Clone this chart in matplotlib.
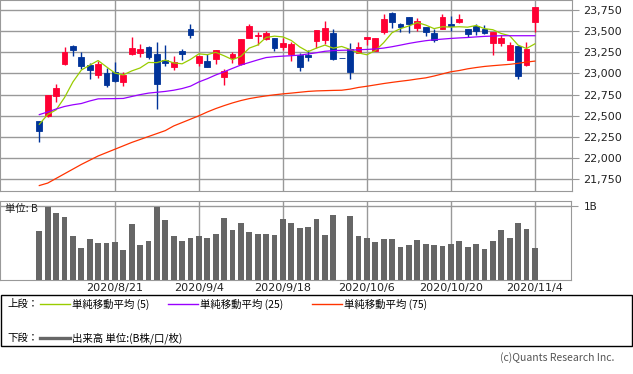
import matplotlib
matplotlib.use('Agg')
import matplotlib.pyplot as plt
from matplotlib.lines import Line2D
from matplotlib.patches import Rectangle
import numpy as np
import pandas as pd

plt.rcParams['font.family'] = ['Noto Sans CJK JP', 'DejaVu Sans']

# trading days 2020/8/7 - 2020/11/4 (TSE holidays removed, 10/1 = system halt)
holidays = ['2020-08-10', '2020-09-21', '2020-09-22', '2020-11-03']
days = pd.bdate_range('2020-08-07', '2020-11-04')
days = days[~days.isin(pd.to_datetime(holidays))]
dates = [f"{d.year}/{d.month}/{d.day}" for d in days]

tick_labels = ['2020/8/21', '2020/9/4', '2020/9/18', '2020/10/6', '2020/10/20', '2020/11/4']

opens = [22435, 22494, 22735, 23114, 23323, 23193, 23098, 22984, 23003, 23019,
         22897, 23229, 23240, 23312, 23229, 23154, 23078, 23264, 23525, 23126,
         23146, 23169, 22960, 23177, 23106, 23422, 23438, 23410, 23422, 23316,
         23229, 23217, 23217, 23387, 23395, 23477, 23177, 23288, 23244, 23406,
         23268, 23485, 23714, 23584, 23667, 23541, 23545, 23477, 23529, 23584,
         23608, 23525, 23564, 23529, 23363, 23363, 23157, 23323, 23102, 23612]
highs = [22440, 22750, 22873, 23312, 23335, 23252, 23126, 23146, 23059, 23134,
         23015, 23434, 23351, 23323, 23367, 23335, 23205, 23288, 23584, 23205,
         23225, 23280, 23051, 23252, 23410, 23584, 23485, 23501, 23422, 23422,
         23375, 23236, 23276, 23515, 23620, 23525, 23177, 23363, 23371, 23435,
         23422, 23703, 23730, 23600, 23670, 23651, 23545, 23521, 23699, 23679,
         23703, 23525, 23584, 23572, 23495, 23450, 23367, 23327, 23375, 23790]
lows = [22190, 22480, 22664, 23102, 23209, 23055, 22932, 22948, 22842, 22905,
        22853, 23217, 23197, 23173, 22581, 23086, 23039, 23157, 23422, 23090,
        23078, 23110, 22865, 23126, 23100, 23420, 23339, 23395, 23268, 23276,
        23150, 23031, 23150, 23296, 23343, 23165, 23177, 22932, 23244, 23331,
        23268, 23470, 23541, 23493, 23477, 23501, 23446, 23375, 23529, 23501,
        23592, 23426, 23450, 23470, 23221, 23327, 23155, 22936, 23090, 23485]
closes = [22320, 22743, 22834, 23252, 23276, 23090, 23039, 23110, 22861, 22909,
          22980, 23300, 23288, 23197, 22877, 23126, 23138, 23232, 23458, 23205,
          23078, 23276, 23027, 23229, 23406, 23560, 23458, 23477, 23304, 23359,
          23351, 23078, 23197, 23513, 23537, 23169, 23177, 23019, 23312, 23430,
          23414, 23643, 23612, 23553, 23584, 23620, 23493, 23398, 23667, 23560,
          23643, 23466, 23501, 23481, 23493, 23418, 23335, 22972, 23292, 23790]

ma5 = [22400, 22515, 22570, 22715, 22900, 23040, 23098, 23153, 23078, 23005,
       22983, 23030, 23065, 23130, 23128, 23158, 23125, 23114, 23166, 23232,
       23222, 23250, 23209, 23163, 23203, 23300, 23336, 23426, 23441, 23432,
       23390, 23314, 23258, 23300, 23335, 23299, 23319, 23283, 23243, 23221,
       23270, 23364, 23482, 23530, 23561, 23602, 23572, 23530, 23552, 23548,
       23552, 23547, 23567, 23530, 23517, 23472, 23446, 23335, 23295, 23350]
ma25 = [22514, 22545, 22580, 22610, 22630, 22645, 22675, 22700, 22702, 22703,
        22705, 22728, 22750, 22768, 22778, 22788, 22802, 22822, 22850, 22900,
        22938, 22982, 23020, 23060, 23100, 23130, 23160, 23188, 23198, 23205,
        23210, 23217, 23230, 23245, 23262, 23270, 23274, 23276, 23280, 23284,
        23290, 23300, 23316, 23335, 23355, 23372, 23387, 23398, 23406, 23414,
        23420, 23425, 23432, 23438, 23442, 23446, 23446, 23446, 23446, 23446]
ma75 = [21676, 21705, 21760, 21815, 21870, 21925, 21975, 22025, 22065, 22105,
        22145, 22185, 22220, 22255, 22290, 22325, 22380, 22420, 22460, 22500,
        22545, 22585, 22620, 22652, 22680, 22703, 22720, 22735, 22748, 22759,
        22768, 22778, 22788, 22794, 22797, 22800, 22802, 22815, 22835, 22849,
        22865, 22881, 22895, 22908, 22920, 22935, 22948, 22970, 22995, 23020,
        23035, 23055, 23070, 23083, 23092, 23100, 23108, 23120, 23135, 23146]

# volume in billions of shares, 10/1 had no trading
volume = [0.665, 0.991, 0.910, 0.855, 0.597, 0.434, 0.557, 0.502, 0.502, 0.516,
          0.407, 0.760, 0.475, 0.529, 0.991, 0.814, 0.597, 0.529, 0.570, 0.597,
          0.570, 0.624, 0.842, 0.679, 0.774, 0.652, 0.624, 0.624, 0.611, 0.828,
          0.774, 0.706, 0.719, 0.828, 0.611, 0.882, 0.0, 0.869, 0.597, 0.570,
          0.516, 0.557, 0.557, 0.448, 0.475, 0.543, 0.489, 0.475, 0.462, 0.489,
          0.529, 0.448, 0.489, 0.421, 0.529, 0.679, 0.570, 0.774, 0.692, 0.434]

W, H = 633, 374
UP = '#ff0033'
DOWN = '#003399'
GRID = '#999999'


def fx(px):
    return px / W


def fy(py):
    return 1 - py / H


fig = plt.figure(figsize=(W / 100, H / 100), dpi=100)
ax = fig.add_axes([fx(0), fy(190.7), fx(572), 190.7 / H])
axv = fig.add_axes([fx(0), fy(280), fx(571), 78.7 / H])

x = np.arange(len(dates))
o = np.array(opens)
c = np.array(closes)
colors = [UP if cc > oo else DOWN for oo, cc in zip(o, c)]

# candles
ax.vlines(x, lows, highs, colors=colors, linewidth=1, zorder=3)
ax.bar(x, np.abs(c - o), bottom=np.minimum(o, c), width=0.68, color=colors,
       edgecolor=colors, linewidth=0.6, zorder=4)

ax.plot(x, ma5, color='#99cc00', linewidth=0.9, zorder=5)
ax.plot(x, ma25, color='#9900ff', linewidth=0.9, zorder=5)
ax.plot(x, ma75, color='#ff3300', linewidth=0.9, zorder=5)

tick_idx = [dates.index(t) for t in tick_labels]

ax.set_xlim(-4.68, 63.42)
ax.set_ylim(21615, 23868)
ax.set_yticks(np.arange(21750, 23751, 250))
ax.set_yticklabels([f"{v:,}" for v in range(21750, 23751, 250)], family='DejaVu Sans')
ax.set_xticks(tick_idx)
ax.set_xticklabels([])
ax.yaxis.tick_right()
ax.tick_params(axis='y', length=5, color=GRID, labelsize=8, pad=3, labelcolor='#222222')
ax.tick_params(axis='x', length=0)
ax.grid(True, color=GRID, linewidth=1)
ax.set_axisbelow(True)
for s in ax.spines.values():
    s.set_color(GRID)

# volume
axv.bar(x, volume, width=0.68, color='#666666', zorder=3)
axv.set_xlim(-4.68, 63.3)
axv.set_ylim(0, 1.068)
axv.set_yticks([1])
axv.set_yticklabels(['1B'], family='DejaVu Sans')
axv.yaxis.tick_right()
axv.tick_params(axis='y', length=5, color=GRID, labelsize=7.5, pad=4, labelcolor='#222222')
axv.set_xticks(tick_idx)
axv.set_xticklabels(tick_labels, family='DejaVu Sans')
axv.tick_params(axis='x', length=0, labelsize=8, pad=2, labelcolor='#222222')
axv.grid(True, color=GRID, linewidth=1)
axv.set_axisbelow(True)
for s in axv.spines.values():
    s.set_color(GRID)
axv.text(0.009, 0.9, '単位: B', transform=axv.transAxes, fontsize=7.5,
         va='center', ha='left', color='#222222')

# legend box
fig.patches.append(Rectangle((fx(0.5), fy(346)), fx(631), (346 - 295.3) / H,
                             transform=fig.transFigure, fill=False,
                             edgecolor='black', linewidth=1))

row1, row2 = 304, 338
fig.text(fx(7), fy(row1), '上段：', fontsize=7.5, va='center', ha='left')
fig.text(fx(7), fy(row2), '下段：', fontsize=7.5, va='center', ha='left')
legend_items = [(40, '#99cc00', '単純移動平均 (5)'),
                (168, '#9900ff', '単純移動平均 (25)'),
                (312, '#ff3300', '単純移動平均 (75)')]
for x0, col, label in legend_items:
    fig.lines.append(Line2D([fx(x0), fx(x0 + 30)], [fy(row1), fy(row1)],
                            transform=fig.transFigure, color=col, linewidth=1))
    fig.text(fx(x0 + 32), fy(row1), label, fontsize=7.5, va='center', ha='left')
fig.lines.append(Line2D([fx(40), fx(70)], [fy(row2), fy(row2)],
                        transform=fig.transFigure, color='#666666', linewidth=2.4))
fig.text(fx(72), fy(row2), '出来高 単位:(B株/口/枚)', fontsize=7.5, va='center', ha='left')

fig.text(fx(614.5), fy(358), '(c)Quants Research Inc.', fontsize=7.5,
         va='center', ha='right', color='#555555')

fig.savefig('out.png', dpi=100)
